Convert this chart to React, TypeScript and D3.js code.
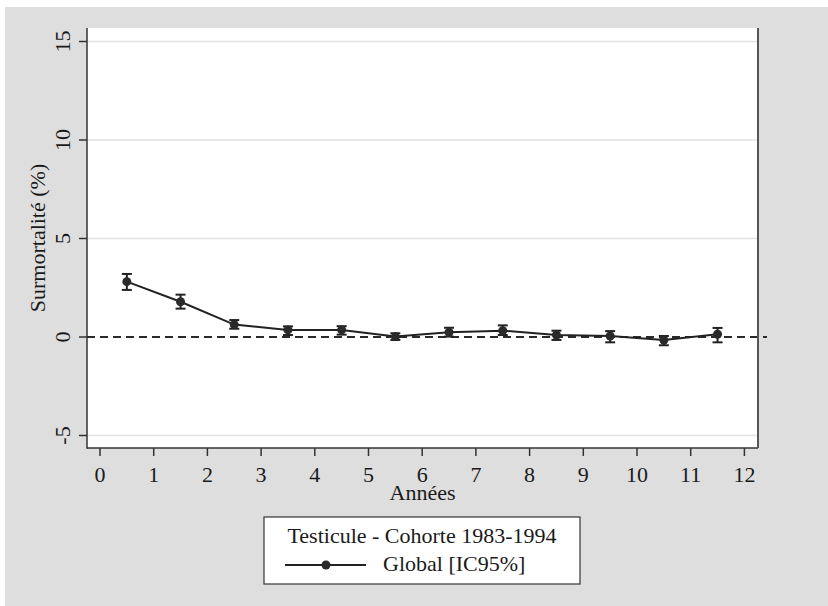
import React from "react";
import * as d3 from "d3";

const years = [0.5, 1.5, 2.5, 3.5, 4.5, 5.5, 6.5, 7.5, 8.5, 9.5, 10.5, 11.5];
const estimate = [2.81, 1.79, 0.63, 0.36, 0.36, 0.02, 0.24, 0.32, 0.1, 0.05, -0.15, 0.14];
const lower = [2.39, 1.44, 0.42, 0.1, 0.12, -0.15, 0.02, 0.1, -0.15, -0.27, -0.42, -0.27];
const upper = [3.2, 2.15, 0.86, 0.54, 0.55, 0.19, 0.47, 0.59, 0.32, 0.3, 0.05, 0.46];
const xTicks = [0, 1, 2, 3, 4, 5, 6, 7, 8, 9, 10, 11, 12];
const yTicks = [-5, 0, 5, 10, 15];
const gridValues = [-5, 5, 10, 15];
const legendTitle = "Testicule - Cohorte 1983-1994";
const seriesLabel = "Global [IC95%]";
const xTitle = "Années";
const yTitle = "Surmortalité (%)";

const FONT = "Liberation Serif, Times New Roman, serif";

export default function App() {
  const W = 828, H = 606;
  const plot = { left: 87, right: 758, top: 28, bottom: 448 };
  const x = d3.scaleLinear().domain([0, 12]).range([100, 744.4]);
  const y = d3.scaleLinear().domain([-5, 15]).range([435.5, 41.5]);
  const pts = years.map((yr, i) => ({ yr, e: estimate[i], lo: lower[i], hi: upper[i] }));
  const line = d3
    .line<{ yr: number; e: number }>()
    .x((d) => x(d.yr))
    .y((d) => y(d.e));
  const cx = (plot.left + plot.right) / 2;
  const cy = (plot.top + plot.bottom) / 2;
  const ink = "#222";
  const txt = { fontFamily: FONT, fontSize: 22, fill: "#1a1a1a" } as const;

  return (
    <svg
      width={W}
      height={H}
      style={{ position: "absolute", left: 0, top: 0 }}
      fontFamily={FONT}
    >
      <rect x={0} y={0} width={W} height={H} fill="#ffffff" />
      <rect x={5} y={7} width={W - 5} height={H - 7} fill="#dedede" />
      <rect
        x={plot.left}
        y={plot.top}
        width={plot.right - plot.left}
        height={plot.bottom - plot.top}
        fill="#ffffff"
      />
      {gridValues.map((v) => (
        <line
          key={"g" + v}
          x1={plot.left + 1}
          x2={plot.right - 1}
          y1={y(v)}
          y2={y(v)}
          stroke="#e2e2e2"
          strokeWidth={1.6}
        />
      ))}
      <line
        x1={plot.left}
        x2={767}
        y1={y(0)}
        y2={y(0)}
        stroke="#2a2a2a"
        strokeWidth={2}
        strokeDasharray="8 5"
      />
      <line x1={plot.left} x2={plot.left} y1={plot.top} y2={plot.bottom + 0.75} stroke="#333" strokeWidth={1.5} />
      <line x1={plot.left} x2={plot.right} y1={plot.bottom} y2={plot.bottom} stroke="#333" strokeWidth={1.5} />
      <line x1={plot.right} x2={plot.right} y1={plot.top} y2={plot.bottom} stroke="#555" strokeWidth={2} />
      {yTicks.map((v) => (
        <g key={"yt" + v}>
          <line x1={79} x2={plot.left} y1={y(v)} y2={y(v)} stroke="#333" strokeWidth={1.5} />
          <text transform={`translate(70,${y(v)}) rotate(-90)`} textAnchor="middle" style={txt}>
            {v}
          </text>
        </g>
      ))}
      {xTicks.map((v) => (
        <g key={"xt" + v}>
          <line x1={x(v)} x2={x(v)} y1={plot.bottom} y2={456} stroke="#333" strokeWidth={1.5} />
          <text x={x(v)} y={482} textAnchor="middle" style={txt}>
            {v}
          </text>
        </g>
      ))}
      <text x={cx} y={500} textAnchor="middle" style={txt}>
        {xTitle}
      </text>
      <text transform={`translate(45,${cy}) rotate(-90)`} textAnchor="middle" style={txt}>
        {yTitle}
      </text>
      <path d={line(pts) || ""} fill="none" stroke={ink} strokeWidth={2} />
      {pts.map((p, i) => (
        <g key={"p" + i}>
          <line x1={x(p.yr)} x2={x(p.yr)} y1={y(p.lo)} y2={y(p.hi)} stroke={ink} strokeWidth={2} />
          <line x1={x(p.yr) - 5} x2={x(p.yr) + 5} y1={y(p.lo)} y2={y(p.lo)} stroke={ink} strokeWidth={2} />
          <line x1={x(p.yr) - 5} x2={x(p.yr) + 5} y1={y(p.hi)} y2={y(p.hi)} stroke={ink} strokeWidth={2} />
          <circle cx={x(p.yr)} cy={y(p.e)} r={4.5} fill="#2a2a2a" />
        </g>
      ))}
      <rect x={264} y={517} width={316} height={67} fill="#ffffff" stroke="#333" strokeWidth={1.2} />
      <text x={422} y={543} textAnchor="middle" style={txt}>
        {legendTitle}
      </text>
      <line x1={285} x2={366} y1={565} y2={565} stroke={ink} strokeWidth={2} />
      <circle cx={326} cy={565} r={4.5} fill="#2a2a2a" />
      <text x={383} y={571} style={txt}>
        {seriesLabel}
      </text>
    </svg>
  );
}
